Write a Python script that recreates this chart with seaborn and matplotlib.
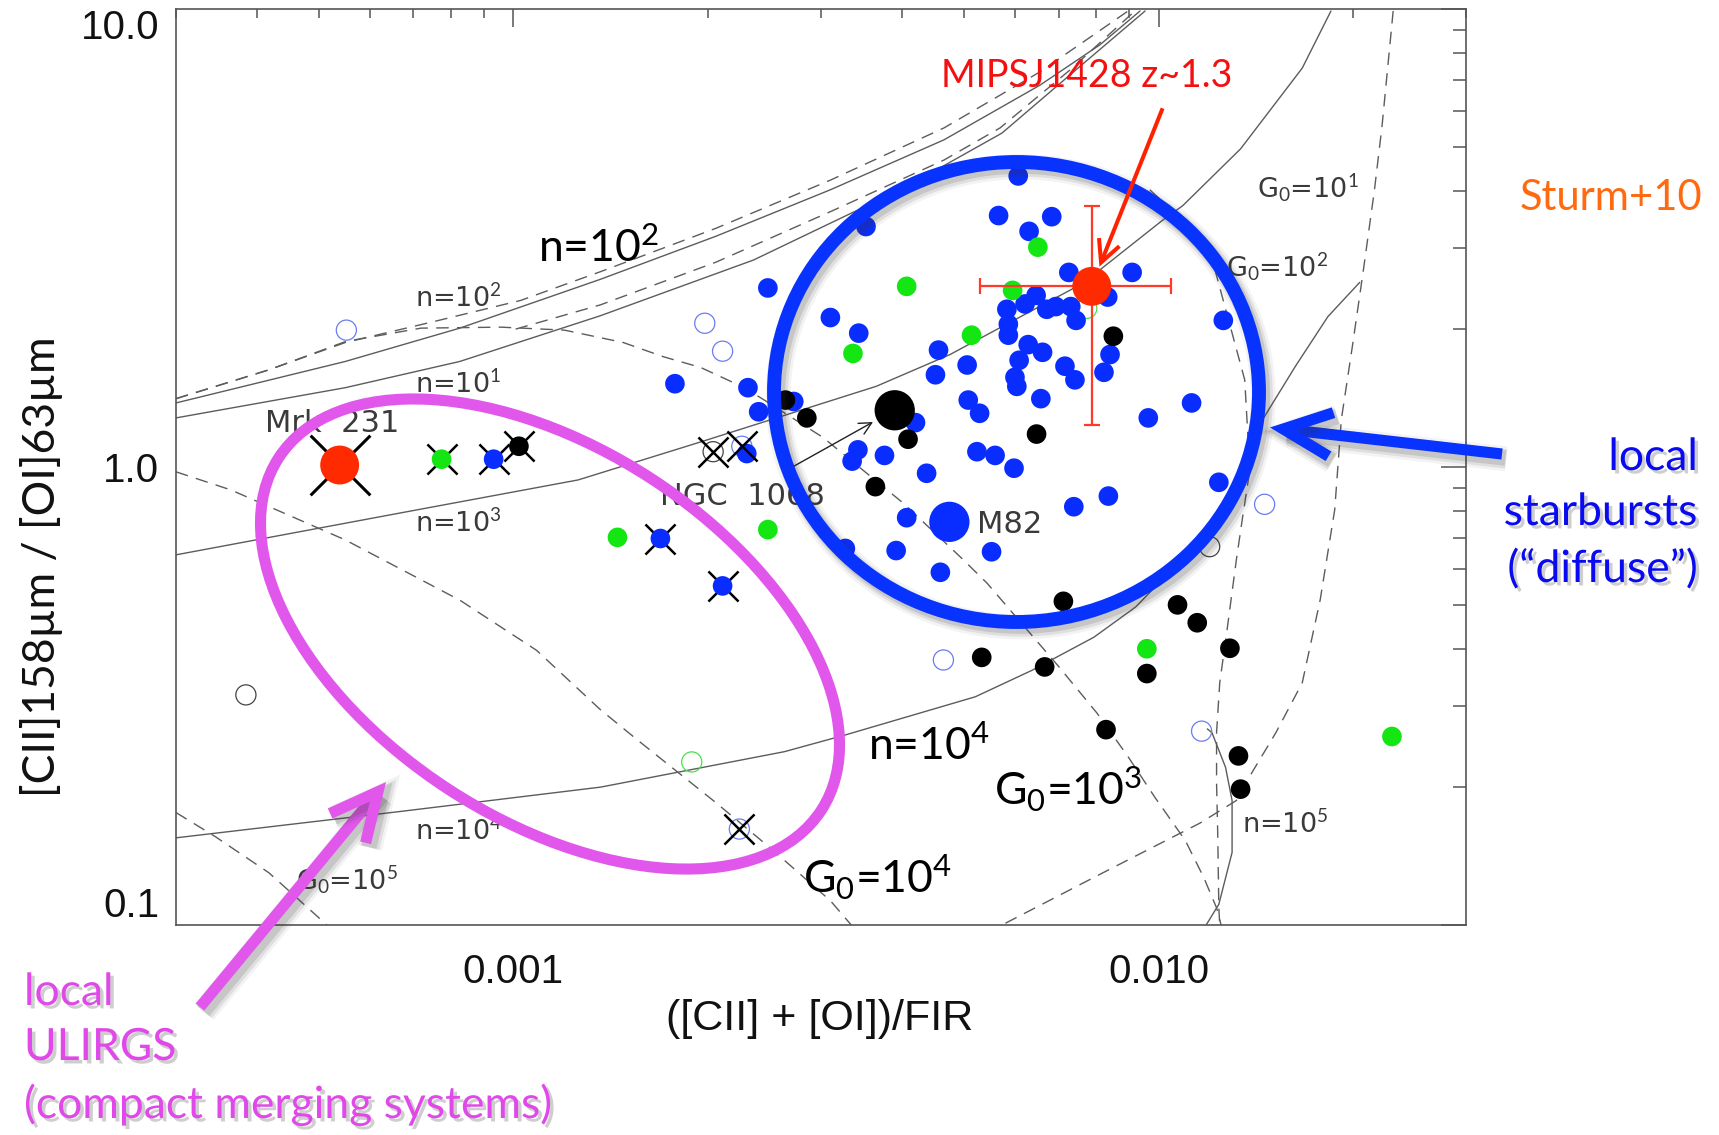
import matplotlib
matplotlib.use("Agg")
import matplotlib.pyplot as plt
import matplotlib.patheffects as pe
import matplotlib.transforms as mtransforms
from matplotlib.patches import Ellipse, FancyArrowPatch
from matplotlib.ticker import FixedLocator, FixedFormatter, NullFormatter, LogLocator
import seaborn as sns

sns.set_theme(style="white")
plt.rcParams["font.family"] = ["Lato", "DejaVu Sans"]
plt.rcParams["mathtext.fontset"] = "custom"
plt.rcParams["mathtext.rm"] = "Lato"
plt.rcParams["mathtext.it"] = "Lato:italic"
plt.rcParams["mathtext.bf"] = "Lato:bold"

W, H = 1719, 1135

# ---------------- galaxies: ([CII]+[OI])/FIR  vs  [CII]158/[OI]63 ----------------
blue_x = [0.00606, 0.00565, 0.00683, 0.00630, 0.00352, 0.00726, 0.00910, 0.00834,
          0.00646, 0.00582, 0.00621, 0.00671, 0.00693, 0.00731, 0.00745, 0.00585,
          0.00585, 0.0126, 0.00505, 0.00628, 0.00661, 0.00608, 0.00599, 0.00603,
          0.00716, 0.00742, 0.00841, 0.00823, 0.00507, 0.00528, 0.00657, 0.00964,
          0.01125, 0.00523, 0.00558, 0.00248, 0.00310, 0.00343, 0.00456, 0.00451,
          0.00178, 0.00231, 0.00240, 0.00272, 0.00420, 0.00342, 0.00335, 0.00376,
          0.00437, 0.00407, 0.00230, 0.00597, 0.00739, 0.00836, 0.00392, 0.00551,
          0.00459, 0.00327, 0.0124]
blue_y = [4.32, 3.54, 3.52, 3.27, 3.35, 2.66, 2.66, 2.35,
          2.37, 2.21, 2.27, 2.21, 2.24, 2.24, 2.09, 2.05,
          1.94, 2.09, 1.67, 1.85, 1.78, 1.71, 1.57, 1.50,
          1.66, 1.55, 1.76, 1.61, 1.40, 1.31, 1.41, 1.28,
          1.38, 1.08, 1.06, 2.46, 2.12, 1.96, 1.80, 1.59,
          1.52, 1.49, 1.32, 1.39, 1.25, 1.09, 1.03, 1.06,
          0.969, 0.775, 1.07, 0.994, 0.819, 0.864, 0.657, 0.653,
          0.589, 0.664, 0.926]
blue_cross_x = [0.000932, 0.00169, 0.00211]
blue_cross_y = [1.04, 0.698, 0.550]
blue_open_x = [0.000551, 0.00198, 0.00211, 0.00464, 0.0146, 0.01166]
blue_open_y = [1.99, 2.06, 1.79, 0.379, 0.829, 0.265]
blue_open_cross_x = [0.00224, 0.00226]
blue_open_cross_y = [0.162, 1.11]

green_x = [0.00650, 0.00594, 0.00513, 0.00407, 0.00336, 0.00248, 0.00145, 0.00959, 0.0230]
green_y = [3.02, 2.43, 1.94, 2.48, 1.77, 0.730, 0.702, 0.401, 0.258]
green_cross_x = [0.000774]
green_cross_y = [1.04]
green_open_x = [0.00774, 0.00189]
green_open_y = [2.22, 0.227]

black_x = [0.00851, 0.00647, 0.00264, 0.00285, 0.00409, 0.00364, 0.00712, 0.0107,
           0.01148, 0.0129, 0.00959, 0.00532, 0.00666, 0.00829, 0.0133, 0.0134]
black_y = [1.93, 1.18, 1.40, 1.28, 1.15, 0.906, 0.509, 0.500,
           0.457, 0.402, 0.354, 0.384, 0.366, 0.267, 0.234, 0.198]
black_cross_x = [0.00102]
black_cross_y = [1.11]
black_open_x = [0.000385, 0.0120]
black_open_y = [0.318, 0.670]
black_open_cross_x = [0.00204]
black_open_cross_y = [1.08]

ngc1068_x, ngc1068_y = [0.00390], [1.33]
m82_x, m82_y = [0.00474], [0.759]
mrk231_x, mrk231_y = [0.000538], [1.01]

mips_x, mips_y = [0.00788], [2.48]
mips_x_lo, mips_x_hi = [0.00529], [0.01044]
mips_y_lo, mips_y_hi = [1.235], [3.72]

# ---------------- PDR model grid: constant density (solid) ----------------
n1e1_x = [3.0e-4, 5.49e-4, 8.26e-4, 1.365e-3, 2.355e-3, 4.063e-3, 5.72e-3, 7.29e-3, 9.53e-3]
n1e1_y = [1.28, 1.49, 1.70, 2.14, 2.83, 4.09, 5.36, 7.18, 9.9]
n1e2_x = [3.0e-4, 5.49e-4, 8.26e-4, 1.365e-3, 2.06e-3, 3.10e-3, 4.65e-3, 6.55e-3, 8.11e-3, 9.36e-3]
n1e2_y = [1.38, 1.70, 2.01, 2.57, 3.19, 4.03, 5.18, 6.82, 8.35, 9.9]
n1e3_x = [3.0e-4, 6.69e-4, 1.26e-3, 1.95e-3, 3.65e-3, 4.75e-3, 7.64e-3, 1.015e-2, 1.09e-2, 1.34e-2, 1.67e-2, 1.85e-2]
n1e3_y = [0.643, 0.794, 0.937, 1.134, 1.50, 1.76, 2.52, 3.46, 3.72, 4.95, 7.43, 9.9]
n1e4_x = [3.0e-4, 6.69e-4, 1.365e-3, 2.63e-3, 3.27e-3, 5.20e-3, 6.37e-3, 7.94e-3, 9.22e-3,
          1.15e-2, 1.30e-2, 1.45e-2, 1.63e-2, 1.83e-2, 2.05e-2]
n1e4_y = [0.155, 0.177, 0.200, 0.239, 0.260, 0.315, 0.360, 0.425, 0.495,
          0.683, 0.904, 1.27, 1.66, 2.13, 2.53]
n1e5_x = [1.18e-2, 1.24e-2, 1.30e-2, 1.30e-2, 1.27e-2, 1.21e-2, 1.19e-2]
n1e5_y = [0.099, 0.111, 0.144, 0.187, 0.221, 0.263, 0.268]

# second model set, constant density (dashed)
n1e2_alt_x = [3.0e-4, 4.18e-4, 5.49e-4, 7.45e-4, 1.026e-3, 1.365e-3, 2.06e-3, 3.10e-3, 4.65e-3, 6.55e-3, 8.97e-3]
n1e2_alt_y = [1.41, 1.63, 1.87, 2.07, 2.31, 2.67, 3.32, 4.23, 5.50, 7.29, 9.9]
n1e1_alt_x = [1.008e-3, 1.365e-3, 2.06e-3, 3.10e-3, 4.65e-3, 5.68e-3, 7.29e-3, 9.19e-3]
n1e1_alt_y = [2.00, 2.26, 2.80, 3.61, 4.68, 5.50, 7.36, 9.9]

# ---------------- PDR model grid: constant G0 (dashed) ----------------
g1e1_x = [2.31e-2, 2.22e-2, 2.16e-2, 2.08e-2, 2.00e-2, 1.92e-2, 1.875e-2, 1.78e-2, 1.67e-2,
          1.52e-2, 1.395e-2, 1.32e-2, 1.16e-2, 8.11e-3, 5.72e-3]
g1e1_y = [9.9, 5.55, 4.01, 2.73, 1.86, 1.27, 0.806, 0.512, 0.338,
          0.263, 0.215, 0.187, 0.167, 0.129, 0.100]
g1e2_x = [9.69e-3, 1.13e-2, 1.22e-2, 1.36e-2, 1.385e-2, 1.35e-2, 1.32e-2, 1.275e-2, 1.244e-2,
          1.23e-2, 1.23e-2, 1.235e-2, 1.24e-2, 1.244e-2]
g1e2_y = [4.03, 3.31, 2.73, 1.55, 0.985, 0.778, 0.627, 0.434, 0.338,
          0.263, 0.204, 0.159, 0.109, 0.100]
g1e3_x = [3.0e-4, 4.18e-4, 5.50e-4, 7.19e-4, 9.56e-4, 1.20e-3, 1.48e-3, 1.71e-3, 1.95e-3,
          2.19e-3, 2.41e-3, 3.02e-3, 4.02e-3, 4.93e-3, 5.42e-3, 7.01e-3, 8.03e-3, 8.97e-3,
          9.87e-3, 1.10e-2, 1.175e-2, 1.23e-2, 1.25e-2]
g1e3_y = [1.41, 1.63, 1.88, 2.01, 2.02, 1.99, 1.87, 1.74, 1.65,
          1.53, 1.42, 1.16, 0.834, 0.636, 0.558, 0.366, 0.290, 0.233,
          0.190, 0.153, 0.127, 0.109, 0.100]
g1e4_x = [3.0e-4, 3.65e-4, 5.49e-4, 8.26e-4, 1.086e-3, 1.365e-3, 1.56e-3, 2.06e-3, 2.52e-3, 3.10e-3, 3.36e-3]
g1e4_y = [0.976, 0.891, 0.693, 0.512, 0.398, 0.295, 0.253, 0.185, 0.146, 0.113, 0.099]
g1e5_x = [3.0e-4, 3.45e-4, 4.18e-4, 5.14e-4]
g1e5_y = [0.176, 0.156, 0.130, 0.100]

# NGC 1068 pointer
ngc_arrow_x = [2.69e-3, 3.61e-3]
ngc_arrow_y = [0.995, 1.254]

# axis ticks
x_ticks = [0.001, 0.01]
x_tick_labels = ["0.001", "0.010"]
y_ticks = [0.1, 1.0, 10.0]
y_tick_labels = ["0.1", "1.0", "10.0"]

# ---------------- colours ----------------
GRID_C = "#5c5c5c"
BLUE = "#0a2dff"
GREEN = "#14e614"
RED = "#ff2a00"
OPEN_BLUE = "#6a7cf2"
OPEN_GREEN = "#4be04b"
RING_BLUE = "#0833ff"
MAGENTA = "#e157ec"

fig = plt.figure(figsize=(W / 100, H / 100), dpi=100)
fig.patch.set_facecolor("white")
ax = fig.add_axes([176 / W, 1 - 925 / H, 1290.4 / W, 916 / H])
ax.set_xscale("log")
ax.set_yscale("log")
ax.set_xlim(3.0e-4, 3.0e-2)
ax.set_ylim(0.1, 10.0)


def model_curve(xs, ys, dashed):
    sns.lineplot(x=xs, y=ys, sort=False, estimator=None, ax=ax, color=GRID_C,
                 linewidth=1.0, zorder=1, legend=False)
    if dashed:
        ax.lines[-1].set_dashes([9, 6])


for xs, ys in [(n1e1_x, n1e1_y), (n1e2_x, n1e2_y), (n1e3_x, n1e3_y),
               (n1e4_x, n1e4_y), (n1e5_x, n1e5_y)]:
    model_curve(xs, ys, False)
for xs, ys in [(n1e2_alt_x, n1e2_alt_y), (n1e1_alt_x, n1e1_alt_y), (g1e1_x, g1e1_y),
               (g1e2_x, g1e2_y), (g1e3_x, g1e3_y), (g1e4_x, g1e4_y), (g1e5_x, g1e5_y)]:
    model_curve(xs, ys, True)


def dots(xs, ys, color, size, z):
    sns.scatterplot(x=xs, y=ys, color=color, s=size, edgecolor="none", linewidth=0,
                    zorder=z, ax=ax, legend=False)


def rings(xs, ys, color, size, z, lw=0.9):
    sns.scatterplot(x=xs, y=ys, color=color, facecolors="none", edgecolor=color,
                    s=size, linewidth=lw, zorder=z, ax=ax, legend=False)


def crosses(xs, ys, size, lw, z):
    sns.scatterplot(x=xs, y=ys, marker="x", color="black", s=size, linewidth=lw,
                    zorder=z, ax=ax, legend=False)


# crosses drawn beneath the filled symbols
crosses(mrk231_x, mrk231_y, 1849, 2.2, 2)
crosses(blue_cross_x + green_cross_x + black_cross_x,
        blue_cross_y + green_cross_y + black_cross_y, 470, 1.8, 2)

rings(blue_open_x + blue_open_cross_x, blue_open_y + blue_open_cross_y, OPEN_BLUE, 210, 3)
rings(green_open_x, green_open_y, OPEN_GREEN, 210, 3)
rings(black_open_x + black_open_cross_x, black_open_y + black_open_cross_y, "#444444", 210, 3)
crosses(blue_open_cross_x + black_open_cross_x, blue_open_cross_y + black_open_cross_y, 470, 1.8, 4)

dots(blue_x + blue_cross_x, blue_y + blue_cross_y, BLUE, 200, 3.1)
dots(green_x + green_cross_x, green_y + green_cross_y, GREEN, 200, 3.2)
dots(black_x + black_cross_x, black_y + black_cross_y, "black", 200, 3.3)
dots(ngc1068_x, ngc1068_y, "black", 841, 3.4)
dots(m82_x, m82_y, BLUE, 841, 3.4)
dots(mrk231_x, mrk231_y, RED, 784, 3.4)

ax.errorbar(mips_x, mips_y,
            xerr=[[mips_x[0] - mips_x_lo[0]], [mips_x_hi[0] - mips_x[0]]],
            yerr=[[mips_y[0] - mips_y_lo[0]], [mips_y_hi[0] - mips_y[0]]],
            fmt="none", ecolor="#ff3a2a", elinewidth=1.6, capsize=5.5, capthick=1.6, zorder=5)
dots(mips_x, mips_y, RED, 784, 6)

ax.annotate("", xy=(ngc_arrow_x[1], ngc_arrow_y[1]), xytext=(ngc_arrow_x[0], ngc_arrow_y[0]),
            arrowprops=dict(arrowstyle="->", color="#222222", lw=1.0, mutation_scale=22,
                            shrinkA=0, shrinkB=0), zorder=4)

# ---------------- axes styling ----------------
for sp in ax.spines.values():
    sp.set_color("#555555")
    sp.set_linewidth(1.2)
ax.xaxis.set_major_locator(FixedLocator(x_ticks))
ax.xaxis.set_major_formatter(FixedFormatter(x_tick_labels))
ax.yaxis.set_major_locator(FixedLocator(y_ticks))
ax.yaxis.set_major_formatter(FixedFormatter(y_tick_labels))
for axis in (ax.xaxis, ax.yaxis):
    axis.set_minor_locator(LogLocator(base=10, subs=(2, 3, 4, 5, 6, 7, 8, 9)))
    axis.set_minor_formatter(NullFormatter())
ax.tick_params(axis="both", which="both", direction="in", top=True, right=True,
               color="#555555", width=1.1, labelcolor="#111111", labelsize=29,
               labelfontfamily="Liberation Sans")
ax.tick_params(axis="x", which="major", length=13, pad=20)
ax.tick_params(axis="x", which="minor", length=6.5)
ax.tick_params(axis="y", which="major", length=18, pad=12)
ax.tick_params(axis="y", which="minor", length=9.5)
ylabs = ax.get_yticklabels()
ylabs[0].set_verticalalignment("bottom")
ylabs[2].set_verticalalignment("top")

ax.set_xlabel("([CII] + [OI])/FIR", fontsize=31, family=["Liberation Sans", "DejaVu Sans"],
              color="#111111")
ax.xaxis.label.set_verticalalignment("center")
ax.xaxis.set_label_coords(0.499, -0.1026)
ax.set_ylabel("[CII]158µm / [OI]63µm", fontsize=32, color="#111111")
ax.yaxis.label.set_verticalalignment("center")
ax.yaxis.set_label_coords(-0.1046, 0.391)

# ---------------- labels in figure pixels ----------------
ID = mtransforms.IdentityTransform()


def P(x, y):
    return (x, H - y)


def ftext(x, y, s, **kw):
    kw.setdefault("va", "baseline")
    return fig.text(x / W, 1 - y / H, s, **kw)


idl = dict(family=["DejaVu Sans"], color="#3a3a3a")
ftext(415, 307, "n=10$^2$", fontsize=19.5, **idl)
ftext(415, 393, "n=10$^1$", fontsize=19.5, **idl)
ftext(415, 532, "n=10$^3$", fontsize=19.5, **idl)
ftext(415, 840, "n=10$^4$", fontsize=19.5, **idl)
ftext(296, 890, "G$_0$=10$^5$", fontsize=19.5, **idl)
ftext(1242, 833, "n=10$^5$", fontsize=19.5, **idl)
ftext(1257, 198, "G$_0$=10$^1$", fontsize=19.5, **idl)
ftext(1226, 277, "G$_0$=10$^2$", fontsize=19.5, **idl)
ftext(265, 432, "Mrk  231", fontsize=22, **idl)
ftext(660, 505, "NGC  1068", fontsize=22, **idl)
ftext(977, 533, "M82", fontsize=22, **idl)

big = dict(fontsize=32, color="black")
ftext(538, 262, "n=10$^2$", **big)
ftext(868, 760, "n=10$^4$", **big)
ftext(994, 805, "G$_0$=10$^3$", **big)
ftext(803, 893, "G$_0$=10$^4$", **big)

ftext(941, 87, "MIPSJ1428 z~1.3", fontsize=27, color="#f51010")
ftext(1611, 210, "Sturm+10", fontsize=30, color="#ff6a10", ha="center")

shadow_txt = [pe.withSimplePatchShadow(offset=(2.5, -2.5), shadow_rgbFace="0.45", alpha=0.35)]
for yb, s in [(470, "local"), (525, "starbursts"), (582, "(“diffuse”)")]:
    t = ftext(1698, yb, s, fontsize=32, color="#0a0af0", ha="right")
    t.set_path_effects(shadow_txt)
for yb, s in [(1005, "local"), (1060, "ULIRGS"), (1118, "(compact merging systems)")]:
    t = ftext(24, yb, s, fontsize=32, color="#e048ea", ha="left")
    t.set_path_effects(shadow_txt)

# ---------------- overlay shapes ----------------
shadow_line = [pe.Stroke(offset=(3, -3.5), linewidth=18, foreground="0.2", alpha=0.06),
               pe.Stroke(offset=(3, -3.5), linewidth=14, foreground="0.2", alpha=0.10),
               pe.Stroke(offset=(2.5, -3), linewidth=11, foreground="0.2", alpha=0.14),
               pe.Normal()]

ring = Ellipse(P(1016.5, 392), 485, 460, angle=0, transform=ID, fill=False,
               edgecolor=RING_BLUE, linewidth=10, zorder=20)
ring.set_path_effects(shadow_line)
fig.add_artist(ring)

loop = Ellipse(P(550, 634), 647, 371, angle=-33, transform=ID, fill=False,
               edgecolor=MAGENTA, linewidth=8, zorder=20)
fig.add_artist(loop)


def arrow(tail, tip, color, lw, hl, hw, ms, fx=None):
    a = FancyArrowPatch(P(*tail), P(*tip), transform=ID,
                        arrowstyle=f"->,head_length={hl},head_width={hw}",
                        mutation_scale=ms, color=color, linewidth=lw,
                        shrinkA=0, shrinkB=0, zorder=21, joinstyle="miter", capstyle="butt")
    if fx:
        a.set_path_effects(fx)
    fig.add_artist(a)


arrow((200, 1007), (386, 782), MAGENTA, 8, 1.7, 0.83, 20, shadow_line)
arrow((1502, 454), (1270, 427.5), RING_BLUE, 8, 1.73, 0.79, 20, shadow_line)
arrow((1162.6, 108.3), (1099.4, 266.7), "#ff2200", 2.9, 1.58, 0.79, 10)

fig.savefig("out.png", dpi=100, facecolor="white")
